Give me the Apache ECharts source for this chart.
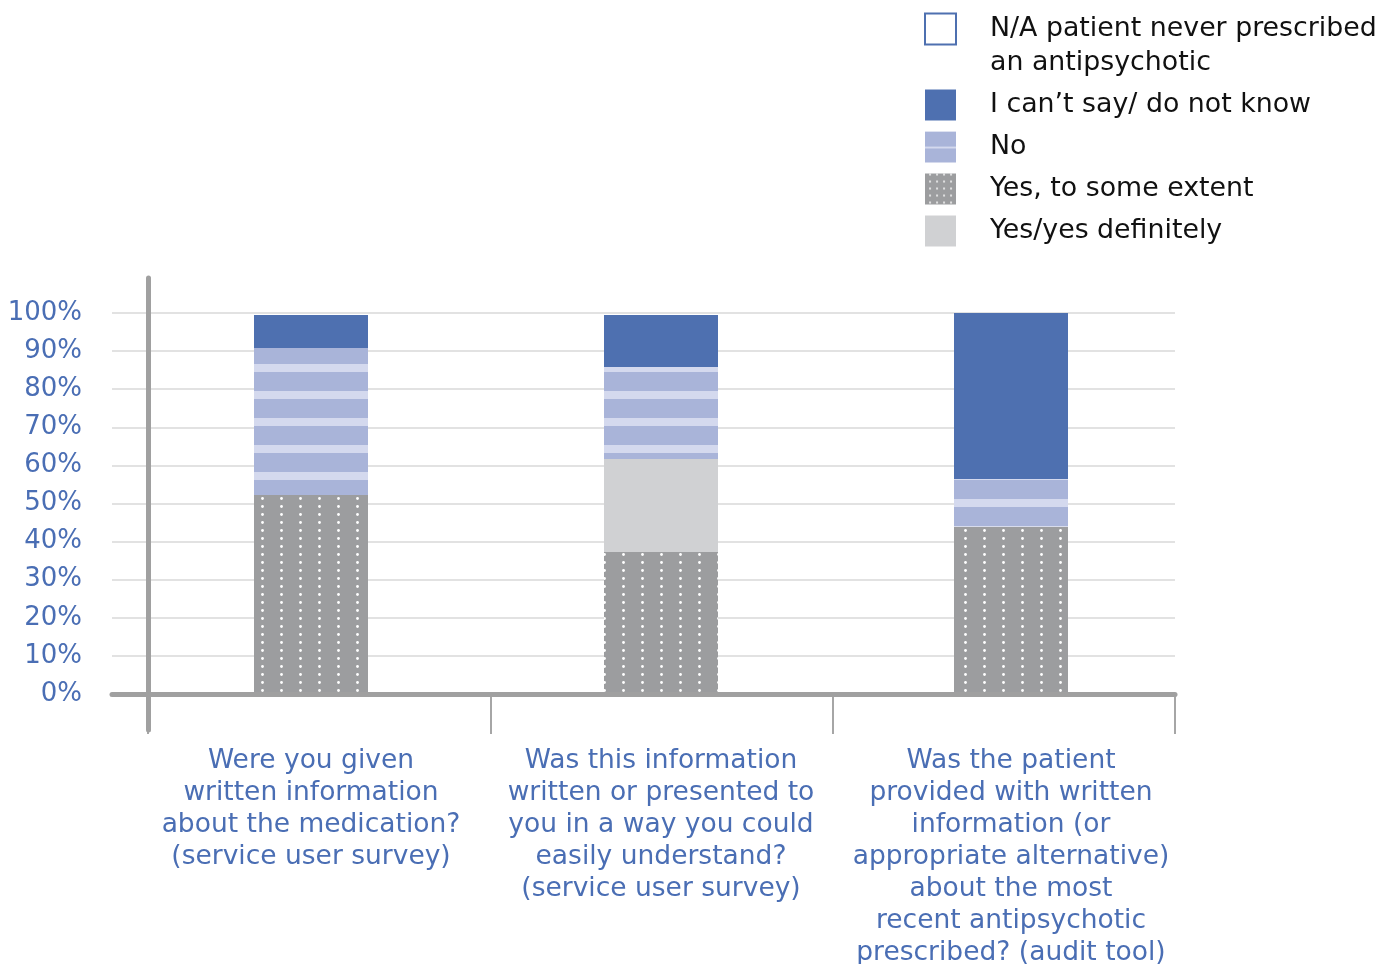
<!DOCTYPE html>
<html>
<head>
<meta charset="utf-8">
<script src="https://cdn.jsdelivr.net/npm/echarts@6/dist/echarts.min.js"></script>
<style>
  html, body { margin: 0; padding: 0; background: #ffffff; }
  #chart { width: 1392px; height: 964px; }
</style>
</head>
<body>
<div id="chart"></div>
<script>
// Survey questions (x-axis categories)
const categories = [
  'Were you given\nwritten information\nabout the medication?\n(service user survey)',
  'Was this information\nwritten or presented to\nyou in a way you could\neasily understand?\n(service user survey)',
  'Was the patient\nprovided with written\ninformation (or\nappropriate alternative)\nabout the most\nrecent antipsychotic\nprescribed? (audit tool)'
];

// Response shares, percent of respondents
const yesSomeExtent = [52.2, 37.3, 43.9];
const yesDefinitely = [0, 24.4, 0];
const noAnswer      = [38.6, 24.1, 12.5];
const cantSay       = [8.7, 13.7, 43.6];
const notPrescribed = [0, 0, 0];

const names = {
  na: 'N/A patient never prescribed\nan antipsychotic',
  cant: 'I can\u2019t say/ do not know',
  no: 'No',
  some: 'Yes, to some extent',
  def: 'Yes/yes definitely'
};

const yMin = 0, yMax = 100, yStep = 10;

const FONT = "'DejaVu Sans', Verdana, sans-serif";
const AXIS_BLUE = '#4a6eb4';
const DARK_BLUE = '#4e70b0';
const LAVENDER = '#a9b4d9';
const LAVENDER_LIGHT = '#d4d9ee';
const DOT_GREY = '#9c9d9f';
const LIGHT_GREY = '#d0d1d3';
const AXIS_GREY = '#a0a0a0';

// Repeating canvas fills for the hatched segments
function tile(w, h, draw) {
  const c = document.createElement('canvas');
  c.width = w; c.height = h;
  draw(c.getContext('2d'));
  return { image: c, repeat: 'repeat' };
}
function stripes(h, y0, y1) {
  return tile(8, h, g => {
    g.fillStyle = LAVENDER; g.fillRect(0, 0, 8, h);
    g.fillStyle = LAVENDER_LIGHT; g.fillRect(0, y0, 8, y1 - y0);
  });
}
function dots(w, h, cx, cy, r) {
  return tile(w, h, g => {
    g.fillStyle = DOT_GREY; g.fillRect(0, 0, w, h);
    g.fillStyle = '#ffffff';
    g.beginPath(); g.arc(cx, cy, r, 0, Math.PI * 2); g.fill();
  });
}

const barStripes = stripes(27, 13, 21);
const barDots = dots(19, 8, 15.5, 2.5, 1.4);
const keyStripes = stripes(17, 15, 17);
const keyDots = dots(7, 7, 5, 1, 0.9);

const chart = echarts.init(document.getElementById('chart'), null, { renderer: 'canvas' });

function barSeries(name, data, color) {
  return {
    name, type: 'bar', stack: 'total', data,
    xAxisIndex: 0, yAxisIndex: 0,
    barWidth: 114,
    itemStyle: { color },
    emphasis: { disabled: true },
    z: 2
  };
}

const hiddenAxisParts = {
  axisLine: { show: false }, axisTick: { show: false },
  axisLabel: { show: false }, splitLine: { show: false }
};

chart.setOption({
  animation: false,
  backgroundColor: '#ffffff',
  textStyle: { fontFamily: FONT },
  grid: [
    // bars and question labels
    { left: 136, right: 206, top: 313, bottom: 270, outerBoundsMode: 'none', containLabel: false },
    // gridlines, percent labels and baseline
    { left: 112, right: 217, top: 313, bottom: 270, outerBoundsMode: 'none', containLabel: false },
    // vertical axis rule
    { left: 148, width: 1, top: 278, bottom: 234, outerBoundsMode: 'none', containLabel: false },
    // category separators
    { left: 148, right: 217, top: 313, bottom: 270, outerBoundsMode: 'none', containLabel: false }
  ],
  legend: {
    orient: 'vertical',
    left: 924,
    top: -22,
    padding: 0,
    itemWidth: 31,
    itemHeight: 31,
    itemGap: 8,
    icon: 'rect',
    selectedMode: false,
    formatter: name => (name === names.na ? '\n' + name : name),
    textStyle: { fontFamily: FONT, fontSize: 26.8, color: '#111111', lineHeight: 34, padding: [0, 0, 0, 29] },
    data: [
      { name: names.na, itemStyle: { color: '#ffffff', borderColor: DARK_BLUE, borderWidth: 2 } },
      { name: names.cant, itemStyle: { color: DARK_BLUE } },
      { name: names.no, itemStyle: { color: keyStripes } },
      { name: names.some, itemStyle: { color: keyDots } },
      { name: names.def, itemStyle: { color: LIGHT_GREY } }
    ]
  },
  xAxis: [
    {
      type: 'category', gridIndex: 0, data: categories,
      axisLine: { show: false },
      axisTick: { show: false },
      axisLabel: {
        interval: 0, margin: 51, fontSize: 26.5, lineHeight: 32,
        color: AXIS_BLUE, fontFamily: FONT, align: 'center'
      },
      splitLine: { show: false }
    },
    {
      type: 'value', gridIndex: 1, min: 0, max: 1, z: 5,
      axisLine: { show: true, onZero: false, lineStyle: { color: AXIS_GREY, width: 5 } },
      axisTick: { show: false }, axisLabel: { show: false }, splitLine: { show: false }
    },
    { type: 'value', gridIndex: 2, show: false },
    {
      type: 'category', gridIndex: 3, data: categories,
      axisLine: { show: false },
      axisTick: { show: true, length: 40, lineStyle: { color: '#a6a6a6', width: 2 } },
      axisLabel: { show: false }, splitLine: { show: false }
    }
  ],
  yAxis: [
    { type: 'value', gridIndex: 0, min: yMin, max: yMax, interval: yStep, show: false },
    {
      type: 'value', gridIndex: 1, min: yMin, max: yMax, interval: yStep,
      axisLine: { show: false }, axisTick: { show: false },
      splitLine: { show: true, lineStyle: { color: '#d9d9d9', width: 1.5 } },
      axisLabel: { formatter: '{value}%', fontSize: 26, color: AXIS_BLUE, fontFamily: FONT, margin: 30 }
    },
    {
      type: 'value', gridIndex: 2, min: 0, max: 1, z: 5,
      axisLine: { show: true, lineStyle: { color: AXIS_GREY, width: 5 } },
      axisTick: { show: false }, axisLabel: { show: false }, splitLine: { show: false }
    },
    Object.assign({ type: 'value', gridIndex: 3, min: yMin, max: yMax }, hiddenAxisParts)
  ],
  series: [
    barSeries(names.some, yesSomeExtent, barDots),
    barSeries(names.def, yesDefinitely, LIGHT_GREY),
    barSeries(names.no, noAnswer, barStripes),
    barSeries(names.cant, cantSay, DARK_BLUE),
    barSeries(names.na, notPrescribed, '#ffffff')
  ]
});
</script>
</body>
</html>
